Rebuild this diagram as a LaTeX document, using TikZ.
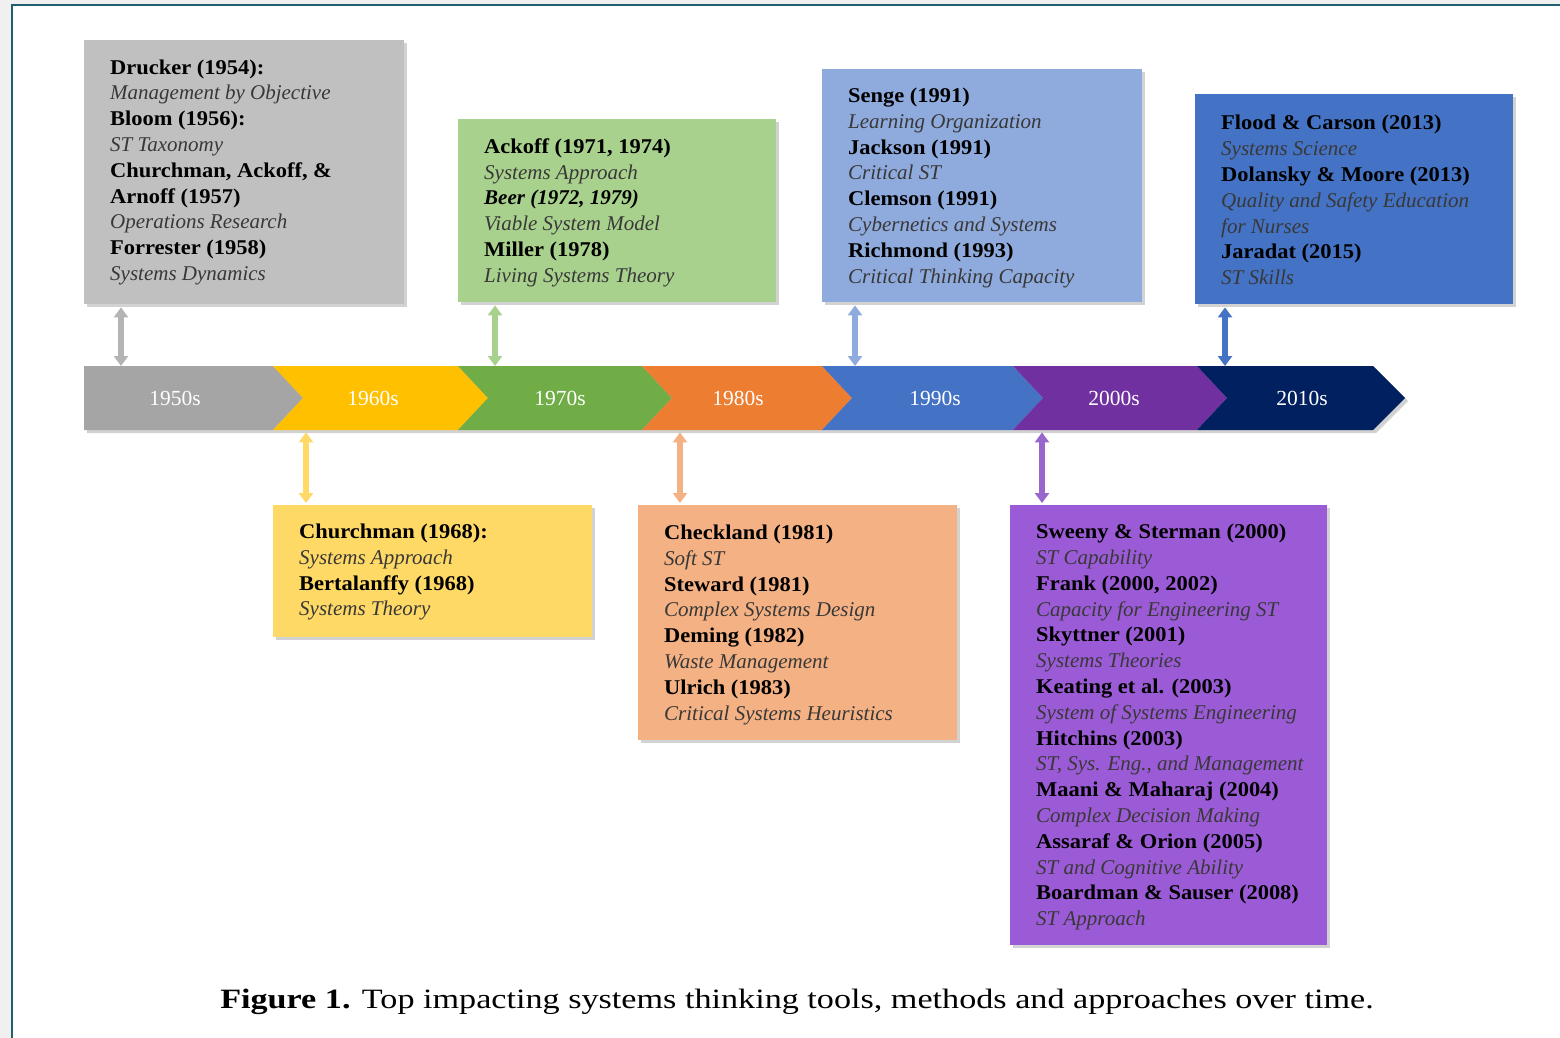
\documentclass[tikz,border=0pt]{standalone}
\usepackage{fontspec}
\setmainfont{Liberation Serif}[BoldFeatures={FakeStretch=1.07}]
\newfontfamily\capfont{Liberation Serif}[FakeStretch=1.22]
\usetikzlibrary{arrows.meta,shadows}
\definecolor{frameteal}{HTML}{1F5F6E}
\definecolor{outerbg}{HTML}{F0F0F0}
\definecolor{bxgray}{HTML}{C0C0C0}
\definecolor{bxgreen}{HTML}{A9D18E}
\definecolor{bxlblue}{HTML}{8FAADC}
\definecolor{bxblue}{HTML}{4472C4}
\definecolor{bxyellow}{HTML}{FFD966}
\definecolor{bxorange}{HTML}{F4B183}
\definecolor{bxpurple}{HTML}{9B5BD6}
\definecolor{sggray}{HTML}{A5A5A5}
\definecolor{sgyellow}{HTML}{FFC000}
\definecolor{sggreen}{HTML}{70AD47}
\definecolor{sgorange}{HTML}{ED7D31}
\definecolor{sgblue}{HTML}{4472C4}
\definecolor{sgpurple}{HTML}{7030A0}
\definecolor{sgnavy}{HTML}{002060}
\definecolor{cngray}{HTML}{B4B4B4}
\definecolor{cnpurple}{HTML}{9966CC}
\definecolor{dscol}{HTML}{383838}
\newcommand{\nm}[1]{\textbf{#1}}
\newcommand{\ds}[1]{\textit{\color{dscol}#1}}
\tikzset{
  box/.style={rectangle, draw=none, inner sep=0pt, anchor=north west,
    drop shadow={shadow xshift=3pt, shadow yshift=-3pt, opacity=0.35}},
  boxtext/.style={anchor=west, align=left, inner sep=0pt,
    font=\fontsize{21}{25.8}\selectfont, text=black},
  yr/.style={text=white, font=\fontsize{21.5}{24}\selectfont, inner sep=0pt},
  conn/.style={line width=6pt, {Triangle[width=14pt,length=10pt]}-{Triangle[width=14pt,length=10pt]}},
}
\begin{document}
\begin{tikzpicture}[x=1pt,y=-1pt]
\useasboundingbox (0,0) rectangle (1560,1038);
\fill[outerbg] (0,0) rectangle (1560,1038);
\fill[white] (12,5) rectangle (1562,1040);
\draw[frameteal, line width=2pt] (1562,5) -- (12,5) -- (12,1040);

% timeline bar (reference node)
\node[inner sep=0pt, minimum width=1321pt, minimum height=64pt, anchor=north west] (bar) at (84,366) {};
\fill[black, opacity=0.18] (87,369) -- (1376,369) -- (1408,401) -- (1376,433) -- (87,433) -- cycle;
\fill[sggray] (84,366) -- (273,366) -- (303,398) -- (273,430) -- (84,430) -- cycle;
\fill[sgyellow] (273,366) -- (458,366) -- (488,398) -- (458,430) -- (273,430) -- (303,398) -- cycle;
\fill[sggreen] (458,366) -- (642,366) -- (672,398) -- (642,430) -- (458,430) -- (488,398) -- cycle;
\fill[sgorange] (642,366) -- (822,366) -- (852,398) -- (822,430) -- (642,430) -- (672,398) -- cycle;
\fill[sgblue] (822,366) -- (1013,366) -- (1043,398) -- (1013,430) -- (822,430) -- (852,398) -- cycle;
\fill[sgpurple] (1013,366) -- (1197,366) -- (1227,398) -- (1197,430) -- (1013,430) -- (1043,398) -- cycle;
\fill[sgnavy] (1197,366) -- (1373,366) -- (1405,398) -- (1373,430) -- (1197,430) -- (1227,398) -- cycle;
\node[yr] (y50) at (175,398) {1950s};
\node[yr] (y60) at (373,398) {1960s};
\node[yr] (y70) at (560,398) {1970s};
\node[yr] (y80) at (738,398) {1980s};
\node[yr] (y90) at (935,398) {1990s};
\node[yr] (y00) at (1114,398) {2000s};
\node[yr] (y10) at (1302,398) {2010s};

% boxes
\node[box, fill=bxgray, minimum width=320pt, minimum height=264pt] (b50) at (84,40) {};
\node[boxtext] (t50) at ([xshift=26pt]b50.west) {\nm{Drucker (1954):}\\\ds{Management by Objective}\\\nm{Bloom (1956):}\\\ds{ST Taxonomy}\\\nm{Churchman, Ackoff, \&}\\\nm{Arnoff (1957)}\\\ds{Operations Research}\\\nm{Forrester (1958)}\\\ds{Systems Dynamics}};

\node[box, fill=bxgreen, minimum width=318pt, minimum height=183pt] (b70) at (458,119) {};
\node[boxtext] (t70) at ([xshift=26pt,yshift=-2pt]b70.west) {\nm{Ackoff (1971, 1974)}\\\ds{Systems Approach}\\\textbf{\textit{Beer (1972, 1979)}}\\\ds{Viable System Model}\\\nm{Miller (1978)}\\\ds{Living Systems Theory}};

\node[box, fill=bxlblue, minimum width=320pt, minimum height=233pt] (b90) at (822,69) {};
\node[boxtext] (t90) at ([xshift=26pt,yshift=-2pt]b90.west) {\nm{Senge (1991)}\\\ds{Learning Organization}\\\nm{Jackson (1991)}\\\ds{Critical ST}\\\nm{Clemson (1991)}\\\ds{Cybernetics and Systems}\\\nm{Richmond (1993)}\\\ds{Critical Thinking Capacity}};

\node[box, fill=bxblue, minimum width=318pt, minimum height=210pt] (b10) at (1195,94) {};
\node[boxtext] (t10) at ([xshift=26pt,yshift=-1pt]b10.west) {\nm{Flood \& Carson (2013)}\\\ds{Systems Science}\\\nm{Dolansky \& Moore (2013)}\\\ds{Quality and Safety Education}\\\ds{for Nurses}\\\nm{Jaradat (2015)}\\\ds{ST Skills}};

\node[box, fill=bxyellow, minimum width=319pt, minimum height=132pt] (b60) at (273,505) {};
\node[boxtext] (t60) at ([xshift=26pt,yshift=-1pt]b60.west) {\nm{Churchman (1968):}\\\ds{Systems Approach}\\\nm{Bertalanffy (1968)}\\\ds{Systems Theory}};

\node[box, fill=bxorange, minimum width=319pt, minimum height=235pt] (b80) at (638,505) {};
\node[boxtext] (t80) at ([xshift=26pt,yshift=-2pt]b80.west) {\nm{Checkland (1981)}\\\ds{Soft ST}\\\nm{Steward (1981)}\\\ds{Complex Systems Design}\\\nm{Deming (1982)}\\\ds{Waste Management}\\\nm{Ulrich (1983)}\\\ds{Critical Systems Heuristics}};

\node[box, fill=bxpurple, minimum width=317pt, minimum height=440pt] (b00) at (1010,505) {};
\node[boxtext] (t00) at ([xshift=26pt,yshift=-2pt]b00.west) {\nm{Sweeny \& Sterman (2000)}\\\ds{ST Capability}\\\nm{Frank (2000, 2002)}\\\ds{Capacity for Engineering ST}\\\nm{Skyttner (2001)}\\\ds{Systems Theories}\\\nm{Keating et al. (2003)}\\\ds{System of Systems Engineering}\\\nm{Hitchins (2003)}\\\ds{ST, Sys. Eng., and Management}\\\nm{Maani \& Maharaj (2004)}\\\ds{Complex Decision Making}\\\nm{Assaraf \& Orion (2005)}\\\ds{ST and Cognitive Ability}\\\nm{Boardman \& Sauser (2008)}\\\ds{ST Approach}};

% connectors
\coordinate (x50) at (121,0);
\coordinate (x60) at (306,0);
\coordinate (x70) at (495,0);
\coordinate (x80) at (680,0);
\coordinate (x90) at (855,0);
\coordinate (x00) at (1042,0);
\coordinate (x10) at (1225,0);
\draw[conn, cngray] ([yshift=-3pt]b50.south -| x50) -- (bar.north -| x50);
\draw[conn, bxgreen] ([yshift=-3pt]b70.south -| x70) -- (bar.north -| x70);
\draw[conn, bxlblue] ([yshift=-3pt]b90.south -| x90) -- (bar.north -| x90);
\draw[conn, bxblue] ([yshift=-3pt]b10.south -| x10) -- (bar.north -| x10);
\draw[conn, bxyellow] ([yshift=-2pt]bar.south -| x60) -- ([yshift=2pt]b60.north -| x60);
\draw[conn, bxorange] ([yshift=-2pt]bar.south -| x80) -- ([yshift=2pt]b80.north -| x80);
\draw[conn, cnpurple] ([yshift=-2pt]bar.south -| x00) -- ([yshift=2pt]b00.north -| x00);

% caption
\node[font=\capfont\fontsize{28}{32}\selectfont, inner sep=0pt] (cap) at (797,1002) {\textbf{Figure 1.} Top impacting systems thinking tools, methods and approaches over time.};
\end{tikzpicture}
\end{document}
